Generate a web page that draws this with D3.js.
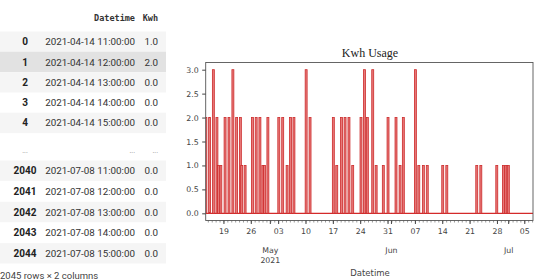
<!DOCTYPE html>
<html>
<head>
<meta charset="utf-8">
<script src="https://cdn.jsdelivr.net/npm/d3@7"></script>
<style>
body { margin: 0; background: #fff; }
svg { display: block; }
</style>
</head>
<body>
<svg width="534" height="280"></svg>
<script>
// table rows shown in the dataframe preview
const headIndex = ["0", "1", "2", "3", "4"]
const headTimes = ["2021-04-14 11:00:00", "2021-04-14 12:00:00", "2021-04-14 13:00:00", "2021-04-14 14:00:00", "2021-04-14 15:00:00"]
const headKwh = ["1.0", "2.0", "0.0", "0.0", "0.0"]
const tailIndex = ["2040", "2041", "2042", "2043", "2044"]
const tailTimes = ["2021-07-08 11:00:00", "2021-07-08 12:00:00", "2021-07-08 13:00:00", "2021-07-08 14:00:00", "2021-07-08 15:00:00"]
const tailKwh = ["0.0", "0.0", "0.0", "0.0", "0.0"]

// usage spikes
const spikeTimes = ["2021-04-14 12:00", "2021-04-15 11:00", "2021-04-16 10:00", "2021-04-17 08:00", "2021-04-17 17:00",
    "2021-04-18 08:00", "2021-04-19 10:00", "2021-04-20 10:00", "2021-04-21 10:00", "2021-04-22 09:00",
    "2021-04-23 08:00", "2021-04-23 16:00", "2021-04-24 13:00", "2021-04-26 10:00", "2021-04-27 09:00",
    "2021-04-28 08:00", "2021-04-29 02:00", "2021-04-29 12:00", "2021-04-30 09:00", "2021-05-03 04:00",
    "2021-05-04 04:00", "2021-05-05 07:00", "2021-05-06 04:00", "2021-05-07 01:00", "2021-05-10 04:00",
    "2021-05-11 04:00", "2021-05-17 03:00", "2021-05-18 00:00", "2021-05-19 05:00", "2021-05-20 03:00",
    "2021-05-21 03:00", "2021-05-22 02:00", "2021-05-24 05:00", "2021-05-25 02:00", "2021-05-25 20:00",
    "2021-05-27 05:00", "2021-05-28 02:00", "2021-05-29 22:00", "2021-05-31 03:00", "2021-06-02 04:00",
    "2021-06-03 05:00", "2021-06-04 01:00", "2021-06-07 03:00", "2021-06-08 00:00", "2021-06-09 04:00",
    "2021-06-10 04:00", "2021-06-14 03:00", "2021-06-15 04:00", "2021-06-22 20:00", "2021-06-23 21:00",
    "2021-06-27 23:00", "2021-06-29 16:00", "2021-06-30 06:00", "2021-06-30 22:00"]
const spikeKwh = [2, 2, 3, 2, 1,
    1, 2, 2, 3, 2,
    2, 1, 1, 2, 2,
    2, 1, 1, 2, 2,
    2, 1, 2, 2, 3,
    2, 2, 1, 2, 2,
    2, 1, 2, 3, 2,
    3, 1, 1, 2, 2,
    1, 2, 3, 1, 1,
    1, 1, 1, 1, 1,
    1, 1, 1, 1]
const yTicks = [0, 0.5, 1, 1.5, 2, 2.5, 3]
const monthLabels = [["May", "2021"], ["Jun"], ["Jul"]]

const parse = d3.timeParse("%Y-%m-%d %H:%M")
const svg = d3.select("svg")

// ---- dataframe preview ----
const tbl = svg.append("g")
tbl.append("text").attr("x", 135).attr("y", 21).attr("text-anchor", "end")
    .attr("font-family", "DejaVu Sans Mono").attr("font-weight", "bold").attr("font-size", 8.5)
    .attr("fill", "#333").text("Datetime")
tbl.append("text").attr("x", 158).attr("y", 21).attr("text-anchor", "end")
    .attr("font-family", "DejaVu Sans Mono").attr("font-weight", "bold").attr("font-size", 8.5)
    .attr("fill", "#333").text("Kwh")

function drawRow(cy, idx, t, k, bg) {
    if (bg) tbl.append("rect").attr("x", 0).attr("y", cy - 10.2).attr("width", 166).attr("height", 20.4).attr("fill", bg)
    tbl.append("text").attr("x", 25).attr("y", cy + 3.5).attr("text-anchor", "middle")
        .attr("font-family", "Roboto").attr("font-weight", "bold").attr("font-size", 10).attr("fill", "#222").text(idx)
    tbl.append("text").attr("x", 135).attr("y", cy + 3.5).attr("text-anchor", "end")
        .attr("font-family", "Roboto").attr("font-size", 9.8).attr("fill", "#333").text(t)
    tbl.append("text").attr("x", 158).attr("y", cy + 3.5).attr("text-anchor", "end")
        .attr("font-family", "Roboto").attr("font-size", 9.8).attr("fill", "#333").text(k)
}
const headBg = ["#f5f5f5", "#e2e2e2", "#f5f5f5", null, "#f5f5f5"]
headIndex.forEach(function(d, i) { drawRow(41.7 + 20.3 * i, d, headTimes[i], headKwh[i], headBg[i]) })
const dots = [[25, "middle"], [135, "end"], [158, "end"]]
dots.forEach(function(d) {
    tbl.append("text").attr("x", d[0]).attr("y", 153).attr("text-anchor", d[1])
        .attr("font-family", "Roboto").attr("font-size", 7).attr("fill", "#888").text("...")
})
const tailBg = ["#f5f5f5", null, "#f5f5f5", null, "#f5f5f5"]
tailIndex.forEach(function(d, i) { drawRow(170.7 + 20.65 * i, d, tailTimes[i], tailKwh[i], tailBg[i]) })
tbl.append("text").attr("x", 0).attr("y", 278.5).attr("font-family", "Roboto").attr("font-size", 9.5)
    .attr("fill", "#444").text("2045 rows \u00d7 2 columns")

// ---- chart ----
const pLeft = 205.7, pRight = 533, pTop = 62.5, pBottom = 220.5
const x = d3.scaleTime().domain([parse("2021-04-14 11:00"), parse("2021-07-07 05:30")]).range([pLeft, pRight])
const y = d3.scaleLinear().domain([-0.15, 3.15]).range([pBottom, pTop])

svg.append("text").attr("x", 370).attr("y", 57).attr("text-anchor", "middle")
    .attr("font-family", "Liberation Serif").attr("font-size", 12).attr("fill", "#222").text("Kwh Usage")

svg.append("clipPath").attr("id", "plotClip").append("rect")
    .attr("x", pLeft).attr("y", pTop).attr("width", pRight - pLeft).attr("height", pBottom - pTop)
const plot = svg.append("g").attr("clip-path", "url(#plotClip)")

plot.append("line").attr("x1", pLeft).attr("x2", pRight).attr("y1", y(0)).attr("y2", y(0))
    .attr("stroke", "#d42a2a").attr("stroke-width", 1.2)

const spikes = spikeTimes.map(function(t, i) { return { t: parse(t), v: spikeKwh[i] } })
plot.selectAll(".spike").data(spikes).enter().append("rect").attr("class", "spike")
    .attr("x", function(d) { return x(d3.timeHour.offset(d.t, -6)) })
    .attr("width", function(d) { return x(d3.timeHour.offset(d.t, 6)) - x(d3.timeHour.offset(d.t, -6)) })
    .attr("y", function(d) { return y(d.v) })
    .attr("height", function(d) { return y(0) - y(d.v) })
    .attr("fill", "#e87a7a").attr("stroke", "#cc2b2b").attr("stroke-width", 0.8)

// spines
svg.append("rect").attr("x", pLeft).attr("y", pTop).attr("width", pRight - pLeft).attr("height", pBottom - pTop)
    .attr("fill", "none").attr("stroke", "#555").attr("stroke-width", 0.9)

// y axis
const yAxis = svg.append("g").attr("transform", "translate(" + pLeft + ",0)")
    .call(d3.axisLeft(y).tickValues(yTicks).tickFormat(d3.format(".1f")).tickSize(3.5).tickPadding(3.5))
yAxis.select(".domain").remove()
yAxis.selectAll("line").attr("stroke", "#444")
yAxis.selectAll("text").attr("font-family", "DejaVu Sans").attr("font-size", 7.8).attr("fill", "#444")

// x axis: daily minor ticks, weekly labels, month labels
const xg = svg.append("g").attr("transform", "translate(0," + pBottom + ")")
xg.call(d3.axisBottom(x).ticks(d3.timeDay).tickFormat("").tickSize(2))
xg.select(".domain").remove()
xg.selectAll("line").attr("stroke", "#555").attr("stroke-width", 0.6)
const xw = svg.append("g").attr("transform", "translate(0," + pBottom + ")")
    .call(d3.axisBottom(x).ticks(d3.timeMonday).tickFormat(d3.timeFormat("%d")).tickSize(3.5).tickPadding(4))
xw.select(".domain").remove()
xw.selectAll("line").attr("stroke", "#444")
xw.selectAll("text").attr("font-family", "DejaVu Sans").attr("font-size", 7.8).attr("fill", "#444")

const months = d3.timeMonth.range(d3.timeMonth.ceil(x.domain()[0]), x.domain()[1])
months.forEach(function(m, i) {
    svg.append("line").attr("x1", x(m)).attr("x2", x(m)).attr("y1", pBottom).attr("y2", pBottom + 3.5)
        .attr("stroke", "#444")
    monthLabels[i].forEach(function(s, j) {
        svg.append("text").attr("x", x(m)).attr("y", 253 + j * 10).attr("text-anchor", "middle")
            .attr("font-family", "DejaVu Sans").attr("font-size", 7.8).attr("fill", "#444").text(s)
    })
})

svg.append("text").attr("x", 370).attr("y", 276).attr("text-anchor", "middle")
    .attr("font-family", "DejaVu Sans").attr("font-size", 8.5).attr("fill", "#444").text("Datetime")
</script>
</body>
</html>
